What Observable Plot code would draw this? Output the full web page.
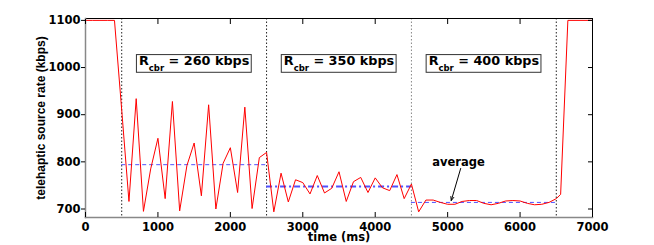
<!DOCTYPE html>
<html><head><meta charset="utf-8">
<script src="https://cdn.jsdelivr.net/npm/d3@7"></script>
<script src="https://cdn.jsdelivr.net/npm/@observablehq/plot@0.6"></script>
<style>
html,body{margin:0;padding:0;background:#fff;}
</style>
</head><body><div id="chart"></div>
<script>
// ---- data ----
const timeMs = [0, 100, 200, 300, 400, 500, 600, 700, 800, 900, 1000, 1100, 1200, 1300, 1400, 1500, 1600, 1700, 1800, 1900,
  2000, 2100, 2200, 2300, 2400, 2500, 2600, 2700, 2800, 2900, 3000, 3100, 3200, 3300, 3400, 3500, 3600, 3700, 3800, 3900,
  4000, 4100, 4200, 4300, 4400, 4500, 4600, 4700, 4800, 4900, 5000, 5100, 5200, 5300, 5400, 5500, 5600, 5700, 5800, 5900,
  6000, 6100, 6200, 6300, 6400, 6500, 6560, 6660, 7000];
const rateKbps = [1100, 1100, 1100, 1100, 1100, 910, 716, 934, 695, 785, 850, 722, 928, 696, 792, 840, 728, 921, 700, 797,
  830, 735, 916, 701, 809, 820, 694, 776, 715, 762, 756, 732, 771, 734, 744, 779, 716, 758, 767, 735,
  766, 745, 739, 773, 722, 753, 694, 719, 719, 714, 710, 710, 716, 718, 718, 712, 709, 712, 717, 718,
  717, 712, 709, 710, 714, 722, 731, 1100, 1100];
const boundariesMs = [500, 2500, 4500, 6500];
const avgRateKbps = [794, 748, 714];
const cbrKbps = [260, 350, 400];
const xTicks = [0, 1000, 2000, 3000, 4000, 5000, 6000, 7000];
const yTicks = [700, 800, 900, 1000, 1100];
const averageLabel = ["average"];
const averageLabelAt = [5150, 800];
const arrowFrom = [5180, 786];
const arrowTo = [5050, 718];

const series = timeMs.map((t, i) => ({t, rate: rateKbps[i]}));
const segments = avgRateKbps.map((avg, i) => ({
  start: boundariesMs[i], end: boundariesMs[i + 1], avg, cbr: cbrKbps[i],
  mid: (boundariesMs[i] + boundariesMs[i + 1]) / 2
}));
const plain = d => String(d);

const plot = Plot.plot({
  width: 654, height: 245,
  marginLeft: 85, marginRight: 62, marginTop: 18, marginBottom: 28,
  style: {fontFamily: "'DejaVu Sans'", fontWeight: "bold", fontSize: "11.5px", background: "white", color: "black", overflow: "visible"},
  x: {domain: [0, 7000]},
  y: {domain: [682, 1104]},
  marks: [
    Plot.ruleX(boundariesMs, {stroke: d => d === 4500 ? "#888" : "#222", strokeDasharray: "1.5,2"}),
    Plot.ruleY([segments[0], segments[2]], {x1: "start", x2: "end", y: "avg", stroke: "#5050ff", strokeDasharray: "4,3"}),
    Plot.ruleY([segments[1]], {x1: "start", x2: "end", y: "avg", stroke: "#5050ff", strokeWidth: 2, strokeDasharray: "6,3,2,3"}),
    Plot.line(series, {x: "t", y: "rate", stroke: "red", strokeWidth: 1}),
    Plot.frame({stroke: "black"}),
    Plot.frame({anchor: "left", stroke: "#888", strokeWidth: 1.5}),
    Plot.frame({anchor: "bottom", stroke: "#888", strokeWidth: 1.5}),
    Plot.axisY(yTicks, {anchor: "left", tickSize: 4, tickPadding: 1, tickFormat: plain, label: null}),
    Plot.axisY(yTicks, {anchor: "right", tickSize: 5, dx: -5, tickFormat: () => "", label: null}),
    Plot.axisX(xTicks, {anchor: "bottom", tickSize: 0, tickPadding: 5, tickFormat: plain, label: null}),
    Plot.axisX(xTicks, {anchor: "bottom", tickSize: 5, dy: -5, tickFormat: () => "", label: null}),
    Plot.axisX(xTicks, {anchor: "top", tickSize: 5, dy: 5, tickFormat: () => "", label: null}),
    Plot.text(["time (ms)"], {frameAnchor: "bottom", dy: 15, lineAnchor: "top", fontSize: 11.5}),
    Plot.text(["telehaptic source rate (kbps)"], {frameAnchor: "left", dx: -44, rotate: -90, textAnchor: "middle",
      fontFamily: "'Liberation Sans'", fontWeight: "bold", fontSize: 12}),
    Plot.text(segments, {x: "mid", frameAnchor: "top", dy: 37.5, text: d => `R|cbr| = ${d.cbr} kbps`, fontSize: 12.8}),
    Plot.text(averageLabel, {x: () => averageLabelAt[0], y: () => averageLabelAt[1], fontSize: 11.5}),
    Plot.arrow([0], {x1: () => arrowFrom[0], y1: () => arrowFrom[1], x2: () => arrowTo[0], y2: () => arrowTo[1],
      stroke: "black", strokeWidth: 1, headLength: 6, headAngle: 45})
  ]
});
document.getElementById("chart").appendChild(plot);

// subscript and boxes for the R_cbr labels
d3.select(plot).selectAll("text").each(function () {
  const txt = this.textContent;
  if (!txt.startsWith("R|cbr|")) return;
  const rest = txt.split("|")[2];
  const sel = d3.select(this);
  sel.text(null);
  sel.append("tspan").text("R");
  sel.append("tspan").attr("font-size", 8.5).attr("dy", 5.7).text("cbr");
  sel.append("tspan").attr("dy", -5.7).text(rest);
  const bb = this.getBBox();
  d3.select(this.parentNode).insert("rect", () => this)
    .attr("transform", this.getAttribute("transform"))
    .attr("x", bb.x - 2.5).attr("width", bb.width + 4)
    .attr("y", bb.y + 1.5).attr("height", bb.height - 2)
    .attr("fill", "white").attr("stroke", "#333").attr("stroke-width", 1);
});
</script>
</body></html>
